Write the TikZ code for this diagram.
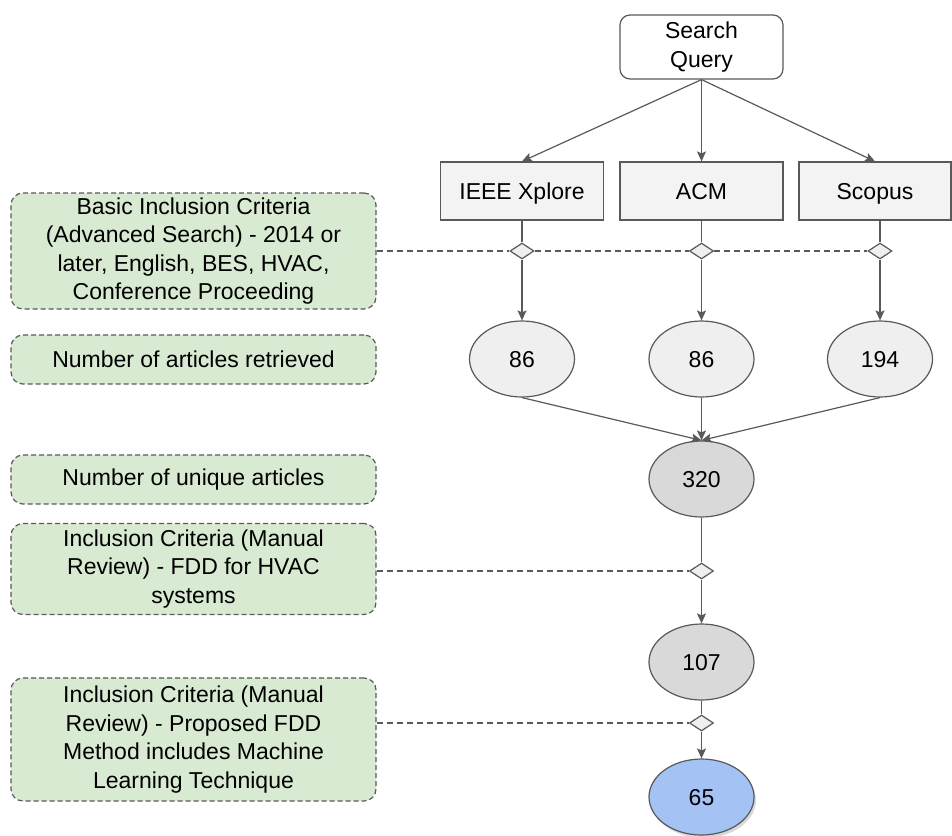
\documentclass[tikz,border=0pt]{standalone}
\usepackage{fontspec}
\setmainfont{Liberation Sans}
\usepackage{tikz}
\usetikzlibrary{calc}
\usetikzlibrary{arrows.meta}
\usetikzlibrary{positioning}
\usetikzlibrary{shapes.geometric}
\usetikzlibrary{shadows}
\definecolor{linegray}{RGB}{89, 89, 89}
\definecolor{boxgray}{RGB}{243, 243, 243}
\definecolor{cloud}{RGB}{239, 239, 239}
\definecolor{silver}{RGB}{217, 217, 217}
\definecolor{mint}{RGB}{217, 234, 211}
\definecolor{cornflower}{RGB}{164, 194, 244}

\begin{document}
\begin{tikzpicture}[x=1pt, y=-1pt,
        every node/.style={font=\fontsize{23}{28.5}\selectfont, inner sep=0pt},
        source/.style={draw=linegray, fill=boxgray, line width=1.2pt, minimum width=163pt, minimum height=58pt, text height=16pt, text depth=0pt},
        count/.style={draw=linegray, ellipse, line width=1.2pt, minimum width=105pt, minimum height=76pt, text height=16pt, text depth=0pt},
        junction/.style={draw=linegray, fill=cloud, diamond, line width=1.2pt, minimum width=24pt, minimum height=16pt},
        criteria/.style={draw=linegray, fill=mint, dash pattern=on 5pt off 3pt, rounded corners=12pt, line width=1.2pt, minimum width=365pt, align=center},
        flow/.style={draw=linegray, line width=1.2pt},
        arrow/.style={flow, -{Stealth[length=10pt, width=9pt, inset=2pt]}},
        filter/.style={draw=linegray, line width=1.2pt, dash pattern=on 6pt off 4pt}]
    \useasboundingbox (0,0) rectangle (952,835);

    % sources
    \node[draw=linegray, fill=white, line width=1.2pt, rounded corners=10pt, minimum width=163pt, minimum height=64pt, align=center]
        (query) at (701.5, 47) {Search\\Query};
    \node[source] (ieee)   at (522.0, 191) {IEEE Xplore};
    \node[source] (acm)    at (701.5, 191) {ACM};
    \node[source, minimum width=152pt] (scopus) at (875.0, 191) {Scopus};
    \node[junction] (dieee)   at (522.0, 251) {};
    \node[junction] (dacm)    at (701.5, 251) {};
    \node[junction] (dscopus) at (880.0, 251) {};

    % counts
    \node[count, fill=cloud] (nieee)   at (522.0, 359) {86};
    \node[count, fill=cloud] (nacm)    at (701.5, 359) {86};
    \node[count, fill=cloud] (nscopus) at (880.0, 359) {194};
    \node[count, fill=silver] (unique) at (701.5, 479) {320};
    \node[junction] (dhvac) at (701.5, 571) {};
    \node[count, fill=silver] (hvac)   at (701.5, 662) {107};
    \node[junction] (dml)   at (701.5, 723) {};
    \node[count, fill=cornflower, drop shadow={shadow xshift=2pt, shadow yshift=-3pt, opacity=0.3}]
        (ml) at (701.5, 797) {65};

    % criteria
    \node[criteria, minimum height=116pt] (cbasic)  at (193.5, 251.0) {Basic Inclusion Criteria\\(Advanced Search) - 2014 or\\later, English, BES, HVAC,\\Conference Proceeding};
    \node[criteria, minimum height=49pt]  (cfound)  at (193.5, 359.5) {Number of articles retrieved};
    \node[criteria, minimum height=49pt]  (cunique) at (193.5, 479.5) {Number of unique articles};
    \node[criteria, minimum height=91pt]  (chvac)   at (193.5, 569.0) {Inclusion Criteria (Manual\\Review) - FDD for HVAC\\systems};
    \node[criteria, minimum height=123pt] (cml)     at (193.5, 739.5) {Inclusion Criteria (Manual\\Review) - Proposed FDD\\Method includes Machine\\Learning Technique};

    % connectors
    \draw[arrow] (query.south) -- (ieee.north);
    \draw[arrow] (query.south) -- (acm.north);
    \draw[arrow] (query.south) -- (scopus.north);
    \foreach \src in {ieee, acm, scopus} {
        \draw[flow]  (\src.south -| d\src) -- (d\src.north);
        \draw[arrow] (d\src.south) -- (n\src.north);
        \draw[arrow] (n\src.south) -- (unique.north);
    }
    \draw[flow]  (unique.south) -- (dhvac.north);
    \draw[arrow] (dhvac.south) -- (hvac.north);
    \draw[flow]  (hvac.south) -- (dml.north);
    \draw[arrow] (dml.south) -- (ml.north);

    \draw[filter] (cbasic.east |- dieee) -- (dieee.west) (dieee.east) -- (dacm.west) (dacm.east) -- (dscopus.west);
    \draw[filter] (chvac.east |- dhvac) -- (dhvac.west);
    \draw[filter] (cml.east |- dml) -- (dml.west);
\end{tikzpicture}
\end{document}
